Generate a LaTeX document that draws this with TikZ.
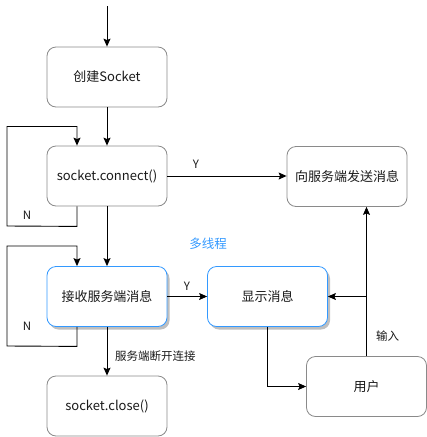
\documentclass[tikz,border=0pt]{standalone}
\usepackage{fontspec}
\setmainfont{Noto Sans CJK SC}
\usetikzlibrary{arrows.meta,shadows}
\definecolor{boxgray}{HTML}{8A8A8A}
\definecolor{boxblue}{HTML}{3399FF}
\definecolor{txt}{HTML}{1A1A1A}
\tikzset{
  box/.style={draw=boxgray, line width=0.8pt, rounded corners=9pt, minimum width=120pt, minimum height=60pt, inner sep=0pt, font=\fontsize{13}{15}\selectfont, text=txt, fill=white},
  bluebox/.style={box, draw=boxblue, drop shadow={shadow xshift=2.5pt, shadow yshift=-3pt, fill=black!25, opacity=1}},
  conn/.style={draw=black, line width=0.9pt, -{Stealth[length=8pt,width=7pt,inset=1.5pt]}},
  plain/.style={draw=black, line width=0.9pt},
  lbl/.style={font=\fontsize{11.5}{13}\selectfont, text=txt, inner sep=0pt}
}
\begin{document}
\begin{tikzpicture}[x=1pt,y=-1pt]
\useasboundingbox (0,0) rectangle (427,437);
\node[box] (create) at (107,77) {创建Socket};
\node[box] (connect) at (107,176) {socket.connect()};
\node[box] (send) at (347,176.5) {向服务端发送消息};
\node[bluebox] (recv) at (107,296.5) {接收服务端消息};
\node[bluebox] (disp) at (267.5,296.5) {显示消息};
\node[box] (close) at (107,406) {socket.close()};
\node[box] (user) at (366.5,386.5) {用户};
\coordinate (start) at (107,6);
% arrows
\draw[conn] (start) -- (create.north);
\draw[conn] (create.south) -- (connect.north);
\draw[conn] ([xshift=-30pt]connect.south) -- ++(0,20) -- (7,226) -- (7,126.5) -| ([xshift=-30pt]connect.north);
\node[lbl] (n1) at (27,215) {N};
\draw[conn] (connect.east) -- (send.west |- connect.east);
\node[lbl] (y1) at (196,164) {Y};
\draw[conn] (connect.south) -- (recv.north);
\draw[conn] ([xshift=-30pt]recv.south) -- ++(0,19.5) -- (7,346) -- (7,246) -| ([xshift=-30pt]recv.north);
\node[lbl] (n2) at (27,326) {N};
\draw[conn] (recv.east) -- (disp.west);
\node[lbl] (y2) at (187,286) {Y};
\draw[conn] (recv.south) -- (close.north);
\node[lbl, anchor=west] (lb) at (115,356) {服务端断开连接};
\draw[conn] (disp.south) |- (user.west);
\draw[conn] (user.north) -- (user.north |- send.south);
\draw[conn] (user.north |- disp.east) -- (disp.east);
\node[lbl] (inp) at (387.5,336) {输入};
\node[lbl, text=boxblue, font=\fontsize{12.5}{14}\selectfont] (mt) at (208,244) {多线程};
\end{tikzpicture}
\end{document}
